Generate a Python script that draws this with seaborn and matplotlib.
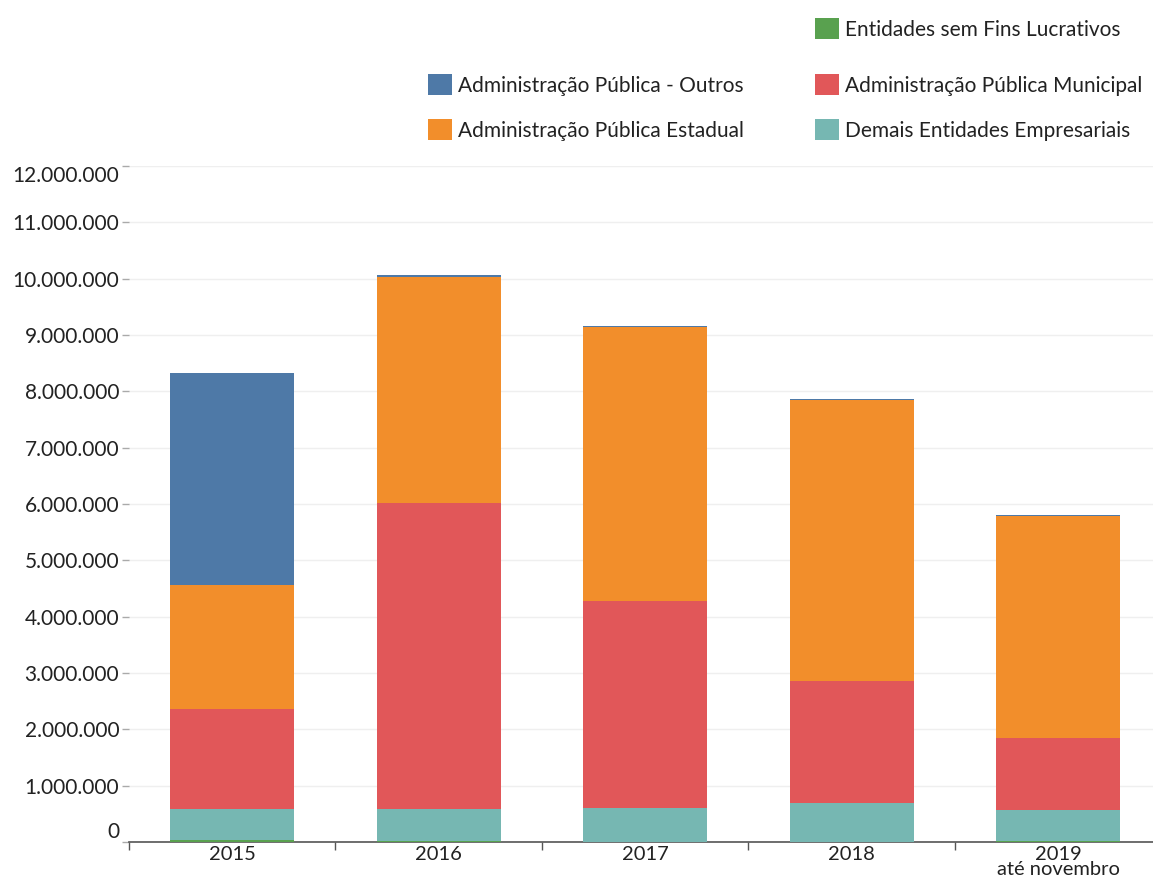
import matplotlib
matplotlib.use("Agg")
import matplotlib.pyplot as plt
from matplotlib.patches import Patch
import numpy as np
import pandas as pd
import seaborn as sns

# Dados (valores estimados a partir do gráfico)
anos = ["2015", "2016", "2017", "2018", "2019"]
rotulos = ["2015", "2016", "2017", "2018", "2019\naté novembro"]
sem_fins_lucrativos = [40000, 10000, 8000, 8000, 10000]
demais_empresariais = [550000, 575000, 590000, 680000, 560000]
adm_municipal = [1770000, 5430000, 3680000, 2170000, 1280000]
adm_estadual = [2200000, 4010000, 4860000, 4990000, 3940000]
adm_outros = [3770000, 40000, 30000, 20000, 15000]

series = [
    ("Entidades sem Fins Lucrativos", sem_fins_lucrativos, "#59a14f"),
    ("Demais Entidades Empresariais", demais_empresariais, "#76b7b2"),
    ("Administração Pública Municipal", adm_municipal, "#e15759"),
    ("Administração Pública Estadual", adm_estadual, "#f28e2b"),
    ("Administração Pública - Outros", adm_outros, "#4e79a7"),
]

sns.set_theme(style="white")
plt.rcParams["font.family"] = ["Lato", "DejaVu Sans"]

fig = plt.figure(figsize=(11.53, 8.85), dpi=100)
ax = fig.add_axes([129 / 1153, 1 - 842 / 885, 1 - 129 / 1153, (842 - 166) / 885])

# barras empilhadas: desenha os acumulados do topo para a base
df = pd.DataFrame({"ano": anos})
acumulado = np.zeros(len(anos))
camadas = []
for nome, valores, cor in series:
    acumulado = acumulado + np.array(valores)
    camadas.append((nome, acumulado.copy(), cor))

for nome, total, cor in reversed(camadas):
    df["v"] = total
    sns.barplot(data=df, x="ano", y="v", color=cor, width=0.6, ax=ax,
                saturation=1, linewidth=0, zorder=3)

ax.set_xlim(-0.5, 4.46)
ax.set_ylim(0, 12000000)
ax.set_xlabel("")
ax.set_ylabel("")

yticks = np.arange(0, 12000001, 1000000)
ax.set_yticks(yticks, [f"{int(v):,}".replace(",", ".") for v in yticks])
ax.grid(axis="y", color="#efefef", linewidth=1, zorder=0)
ax.grid(axis="x", visible=False)

for s in ["top", "right", "left"]:
    ax.spines[s].set_visible(False)
ax.spines["bottom"].set_color("#555555")
ax.spines["bottom"].set_linewidth(1.2)

ax.tick_params(axis="y", left=True, length=5, width=1, color="#aaaaaa",
               labelsize=15, labelcolor="#222222", pad=2)
ylabels = ax.get_yticklabels()
ylabels[0].set_va("bottom")
ylabels[-1].set_va("top")

# ticks de fronteira e rótulos centrados
ax.set_xticks(np.arange(-0.5, 4.5, 1.0))
ax.set_xticklabels([])
ax.set_xticks(np.arange(len(anos)), minor=True)
ax.set_xticklabels(rotulos, minor=True, linespacing=0.88)
ax.tick_params(axis="x", which="major", bottom=True, length=6, width=1, color="#555555")
ax.tick_params(axis="x", which="minor", bottom=False, length=0,
               labelsize=14.5, labelcolor="#222222", pad=3)

# legenda
handles = {nome: Patch(facecolor=cor, edgecolor="none") for nome, _, cor in series}
opts = dict(loc="center left", frameon=False, fontsize=15, handlelength=1.15,
            handleheight=1.15, handletextpad=0.3, borderpad=0, borderaxespad=0,
            labelspacing=1.15)


def legenda(nomes, x, y):
    leg = fig.legend([handles[n] for n in nomes], nomes,
                     bbox_to_anchor=(x / 1153, 1 - y / 885), **opts)
    for t in leg.get_texts():
        t.set_color("#222222")
    return leg


legenda(["Entidades sem Fins Lucrativos"], 815, 29)
legenda(["Administração Pública - Outros", "Administração Pública Estadual"], 428, 107.5)
legenda(["Administração Pública Municipal", "Demais Entidades Empresariais"], 815, 107.5)

fig.savefig("out.png", dpi=100)
